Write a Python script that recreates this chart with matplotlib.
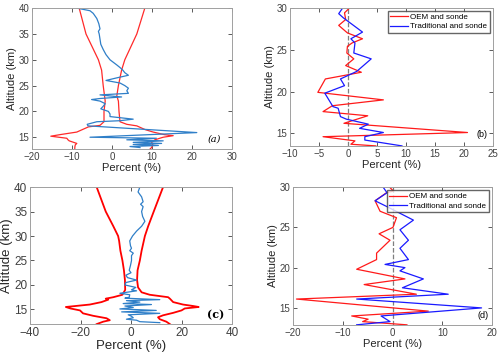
import numpy as np
from matplotlib import pyplot as plt
from matplotlib.ticker import MultipleLocator

plt.rcParams['font.family'] = ['Liberation Sans', 'DejaVu Sans']

# ---- panel (a) ----
a_lo_alt = [40, 35, 30, 28, 25, 22, 20, 18, 17.3, 17, 16, 15.5, 15.2, 14.8, 14.5, 14.3, 13.8, 13.5, 13, 12.7]
a_lo_val = [-8.2, -6.5, -3.4, -2.6, -2.2, -1.7, -2.0, -2.0, -3.0, -5.9, -8.8, -13.0, -15.3, -11.3, -11.0, -10.7, -8.8, -9.2, -9.3, -9.3]
a_hi_alt = [40, 35, 30, 28, 25, 23, 22, 20, 18, 17.5, 17.2, 16.5, 16, 15.5, 15.3, 15, 14.5, 14, 13.5, 13, 12.7]
a_hi_val = [8.2, 6.2, 3.2, 2.4, 1.6, 1.2, 1.6, 1.75, 2.0, 3.7, 6.2, 8.2, 10.3, 13.1, 15.3, 12.8, 10.7, 9.9, 10.2, 9.9, 9.5]
a_bl_alt = [40, 39.5, 39, 38, 37, 36, 35.5, 35, 34, 33, 32, 31, 30, 29, 28.5, 28, 27.5, 27, 26.5, 26,
            25.5, 25, 24.5, 24, 23.5, 23.2, 23, 22.8, 22.5, 22.3, 22, 21.5, 21, 20.5, 20, 19.5, 19,
            18.5, 18.2, 18, 17.5, 17.2, 15.9, 15.0, 14.8, 14.5, 14.3, 14.0, 13.8, 13.6, 13.4, 13.2, 13.0]
a_bl_val = [-8.7, -5.5, -4.7, -3.8, -3.3, -3.0, -3.4, -3.2, -3.0, -2.8, -2.2, -1.5, -0.5, 1.2, 2.0, 2.7, 3.2, 4.1, 1.2, -1.5,
            2.0, 3.2, 4.1, 3.7, 4.1, -3.0, -0.5, 2.4, -3.0, -5.1, -3.0, -1.7, -2.2, -2.8, -0.9, -0.5, -0.5,
            5.3, 2.0, -3.8, -6.2, -6.0, 21.2, -5.5, 11.1, 3.7, 12.8, 5.3, 12.4, 5.3, 11.6, 4.5, 7.0]

# ---- panel (b) ----
b_oem_alt = [30.0, 29.4, 28.6, 27.9, 27.0, 26.3, 25.8, 25.4, 24.6, 23.9, 23.1, 22.3, 21.5, 19.9, 19.0,
             18.3, 17.6, 17.1, 16.2, 15.1, 14.6, 14.1, 13.7, 13.5]
b_oem_val = [0.3, -0.6, -0.4, -1.6, -0.1, 2.5, 0.7, -0.1, -0.2, 1.0, -0.4, 2.3, -3.9, -5.2, 6.1,
             -2.7, -4.3, 3.4, -0.7, 20.6, -4.3, 1.2, 0.5, 4.8]
b_tra_alt = [30.0, 29.3, 28.8, 27.1, 26.3, 25.8, 24.6, 23.9, 22.4, 21.5, 20.7, 19.8, 18.2, 18.0, 17.0,
             16.7, 16.1, 15.6, 15.1, 14.6, 14.2, 13.5]
b_tra_val = [-0.9, -1.6, -0.8, 2.5, 0.5, 1.2, 1.0, 4.0, 1.5, -1.3, -0.6, -4.0, -2.6, -1.7, -1.3,
             -0.3, 3.5, 2.0, 6.1, 2.9, 2.9, 9.3]

# ---- panel (c) ----
c_lo_alt = [40, 35, 32, 30, 29, 27, 25, 23, 21, 19, 18, 17.5, 17.2, 17.0, 16.5, 16, 15.5, 15.2, 14.8,
            14.2, 13.7, 13.2, 12.8, 12.5, 12.0]
c_lo_val = [-13.6, -10.0, -7.0, -5.1, -4.7, -4.2, -3.4, -2.8, -2.4, -2.3, -3.4, -7.0, -10.0, -9.0, -11.7,
            -16.3, -25.8, -24.0, -20.2, -19.0, -15.0, -9.7, -8.4, -11.0, -13.6]
c_hi_alt = [40, 35, 32, 30, 27, 25, 23, 21, 19.5, 18.5, 18, 17.5, 17.2, 16.5, 16, 15.7, 15.5, 15.2,
            14.8, 14.3, 13.8, 13.4, 13.0, 12.5, 12.0]
c_hi_val = [12.7, 9.0, 6.8, 5.5, 4.2, 3.5, 2.6, 2.4, 2.8, 4.2, 7.4, 14.7, 15.4, 16.7, 20.6, 24.6, 26.8, 21.3,
            20.0, 16.7, 12.7, 10.7, 11.4, 14.0, 15.4]
c_bl_alt = [40, 39, 38, 37, 36.5, 36, 35, 34, 33, 32, 31, 30, 29, 28, 27.5, 27, 26.5, 26, 25, 24, 23,
            22.5, 22, 21.5, 21, 20.5, 20, 19.5, 19, 18.8, 18.3, 18, 17.5, 17.3, 17.0, 16.8, 16.5, 16.2,
            16.0, 15.7, 15.4, 15.1, 14.8, 14.5, 14.2, 13.9, 13.6, 13.3, 13.0, 12.8, 12.5, 12.3]
c_bl_val = [3.5, 2.8, 4.2, 4.8, 3.8, 4.8, 4.2, 4.6, 5.5, 4.2, 2.2, 0.6, -0.5, -0.2, 0.2, -0.5, 0.9, 0.2, 0.2, -0.2, -0.7,
            0.0, -2.0, -1.4, 2.2, -2.0, -2.4, 1.9, 0.2, 2.2, -4.4, -0.5, -0.7, -2.4, 11.4, -1.8, 3.5, -3.1,
            8.1, -2.4, 0.9, -4.4, 10.0, -3.7, 11.4, -1.1, 0.2, 0.9, -1.8, 2.2, 3.5, 11.4]

# ---- panel (d) ----
d_oem_alt = [30.0, 29.5, 29.3, 28.3, 27.0, 26.2, 25.0, 24.2, 23.4, 21.8, 21.0, 19.8, 18.6, 17.9, 16.7,
             16.1, 14.6, 14.0, 13.6, 13.3, 12.9]
d_oem_val = [-0.6, 0.2, -1.2, -3.5, -2.5, 0.8, 0.1, -2.7, -0.5, -3.2, -3.2, -7.2, 2.5, -5.7, 4.8,
             -19.3, 7.2, -8.2, -4.9, -6.0, 2.9]
d_tra_alt = [30.0, 29.3, 28.3, 27.6, 25.9, 24.7, 23.4, 22.4, 21.0, 20.4, 20.0, 19.6, 18.6, 17.5, 16.7,
             16.1, 15.0, 14.0, 13.3, 12.9]
d_tra_val = [-1.9, -1.1, -3.5, -1.2, 4.2, 1.5, 3.2, 1.5, 3.2, -1.5, 2.5, 1.5, 6.2, 2.0, 11.2,
             -7.2, 17.9, -2.3, -0.5, -7.2]

LEG = ["OEM and sonde", "Traditional and sonde"]
MBLUE = "#2f7fc8"
GRID = "#7f7f7f"


def style_axes(ax, xlim, ylim, xstep, ystep, fs=7):
    ax.set_xlim(*xlim)
    ax.set_ylim(*ylim)
    ax.xaxis.set_major_locator(MultipleLocator(xstep))
    ax.yaxis.set_major_locator(MultipleLocator(ystep))
    ax.tick_params(direction="in", top=True, right=True, length=3, width=0.6,
                   labelsize=fs, colors="#404040", pad=2)
    for s in ax.spines.values():
        s.set_color("#a0a0a0")
        s.set_linewidth(0.7)
    ax.set_xlabel("Percent (%)", fontsize=fs + 1, color="#262626", labelpad=1)
    ax.set_ylabel("Altitude (km)", fontsize=fs + 1, color="#262626", labelpad=1)


fig = plt.figure(figsize=(5.0, 3.55), dpi=100)

# (a)
ax = fig.add_axes([0.064, 0.580, 0.400, 0.397])
ax.plot(a_lo_val, a_lo_alt, color="#ff2a2a", lw=0.9)
ax.plot(a_hi_val, a_hi_alt, color="#ff2a2a", lw=0.9)
ax.plot(a_bl_val, a_bl_alt, color=MBLUE, lw=0.9)
style_axes(ax, (-20, 30), (12.7, 40), 10, 5)
ax.text(0.91, 0.07, "(a)", transform=ax.transAxes, fontsize=7, family="serif",
        style="italic", ha="center", va="center")

# (b)
ax = fig.add_axes([0.580, 0.589, 0.406, 0.389])
ax.axvline(0, color=GRID, ls="--", lw=0.9)
ax.plot(b_oem_val, b_oem_alt, color="#ff1a1a", lw=0.9, label=LEG[0])
ax.plot(b_tra_val, b_tra_alt, color="#1a1aff", lw=0.9, label=LEG[1])
style_axes(ax, (-10, 25), (13.5, 30), 5, 5)
ax.legend(loc="upper right", fontsize=5.8, frameon=True, fancybox=False, edgecolor="#404040",
          borderaxespad=0.4, handlelength=2.2, handletextpad=0.3, borderpad=0.3, labelspacing=0.2)
ax.text(0.945, 0.08, "(b)", transform=ax.transAxes, fontsize=6.5, ha="center", va="center")

# (c)
ax = fig.add_axes([0.060, 0.087, 0.404, 0.386])
ax.plot(c_lo_val, c_lo_alt, color="#ff0000", lw=1.3)
ax.plot(c_hi_val, c_hi_alt, color="#ff0000", lw=1.3)
ax.plot(c_bl_val, c_bl_alt, color=MBLUE, lw=0.9)
style_axes(ax, (-40, 40), (12, 40), 20, 5, fs=8.5)
ax.text(0.92, 0.07, "(c)", transform=ax.transAxes, fontsize=8, family="serif",
        weight="bold", ha="center", va="center")

# (d)
ax = fig.add_axes([0.586, 0.085, 0.398, 0.388])
ax.axvline(0, color=GRID, ls="--", lw=0.9)
ax.plot(d_oem_val, d_oem_alt, color="#ff1a1a", lw=0.9, label=LEG[0])
ax.plot(d_tra_val, d_tra_alt, color="#1a1aff", lw=0.9, label=LEG[1])
style_axes(ax, (-20, 20), (12.9, 30), 10, 5)
ax.legend(loc="upper right", fontsize=5.8, frameon=True, fancybox=False, edgecolor="#404040",
          borderaxespad=0.4, handlelength=2.2, handletextpad=0.3, borderpad=0.3, labelspacing=0.2)
ax.text(0.955, 0.07, "(d)", transform=ax.transAxes, fontsize=6.5, ha="center", va="center")

plt.savefig("out.png", dpi=100)
